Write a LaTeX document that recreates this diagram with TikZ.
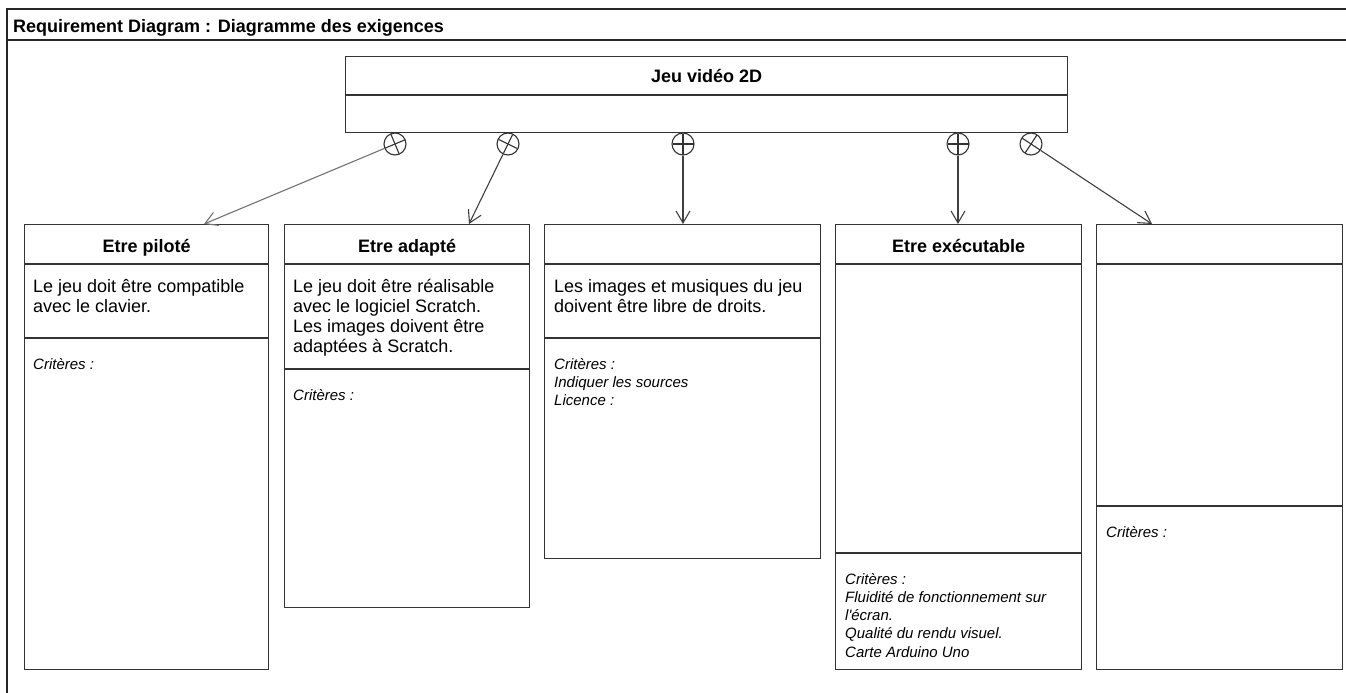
\documentclass[tikz,border=0pt]{standalone}
\usepackage{fontspec}
\setmainfont{Liberation Sans}
\usetikzlibrary{calc,arrows.meta}
\newcommand\straightquote{{\XeTeXglyph\the\XeTeXcharglyph"0027\relax}}
\begin{document}
\begin{tikzpicture}[x=1pt,y=-1pt,
  frameline/.style={draw=black!85,line width=1.4pt},
  reqbox/.style={draw=black!80,line width=1.3pt,rectangle,inner sep=0pt,anchor=north west},
  sepline/.style={draw=black!80,line width=1.3pt},
  ttl/.style={font=\bfseries\fontsize{18}{21}\selectfont,anchor=base,inner sep=0pt},
  body/.style={font=\fontsize{18}{20}\selectfont,anchor=base west,inner sep=0pt},
  crit/.style={font=\itshape\fontsize{15}{18.3}\selectfont,anchor=base west,inner sep=0pt},
  cont/.style={circle,draw=black!80,line width=1.1pt,minimum size=22pt,inner sep=0pt},
  crossl/.style={draw=black!80,line width=1.1pt},
  conn/.style={draw=black!75,line width=1.1pt,-{Straight Barb[length=12pt,width=14pt,line width=1.1pt]}},
]
\useasboundingbox (0,0) rectangle (1346,693);
\fill[white] (0,0) rectangle (1346,693);

% frame
\draw[frameline] (1347,9) -- (7,9) -- (7,694);
\draw[frameline] (7,40) -- (1347,40);
\node[font=\bfseries\fontsize{18}{21}\selectfont,anchor=base west,inner sep=0pt] (frametitle) at (13,33) {Requirement Diagram : Diagramme des exigences};

% top requirement
\node[reqbox,minimum width=722pt,minimum height=76pt] (top) at (345,56) {};
\draw[sepline] ([yshift=-39pt]top.north west) -- ([yshift=-39pt]top.north east);
\node[ttl] (toptitle) at ($(top.north)+(0,26)$) {Jeu vidéo 2D};

% box 1
\node[reqbox,minimum width=244pt,minimum height=445pt] (b1) at (24,224) {};
\draw[sepline] ([yshift=-40pt]b1.north west) -- ([yshift=-40pt]b1.north east);
\draw[sepline] ([yshift=-114pt]b1.north west) -- ([yshift=-114pt]b1.north east);
\node[ttl] (b1t) at ($(b1.north)+(0,28)$) {Etre piloté};
\node[body] (b1d) at (33,292) {\parbox[t]{235pt}{\raggedright Le jeu doit être compatible\\avec le clavier.}};
\node[crit] (b1c) at (33,369) {\parbox[t]{235pt}{\raggedright Critères :}};

% box 2
\node[reqbox,minimum width=245pt,minimum height=383pt] (b2) at (284,224) {};
\draw[sepline] ([yshift=-40pt]b2.north west) -- ([yshift=-40pt]b2.north east);
\draw[sepline] ([yshift=-145pt]b2.north west) -- ([yshift=-145pt]b2.north east);
\node[ttl] (b2t) at ($(b2.north)+(0,28)$) {Etre adapté};
\node[body] (b2d) at (293,292) {\parbox[t]{235pt}{\raggedright Le jeu doit être réalisable\\avec le logiciel Scratch.\\Les images doivent être\\adaptées à Scratch.}};
\node[crit] (b2c) at (293,400) {\parbox[t]{235pt}{\raggedright Critères :}};

% box 3
\node[reqbox,minimum width=276pt,minimum height=334pt] (b3) at (544,224) {};
\draw[sepline] ([yshift=-40pt]b3.north west) -- ([yshift=-40pt]b3.north east);
\draw[sepline] ([yshift=-114pt]b3.north west) -- ([yshift=-114pt]b3.north east);
\node[body] (b3d) at (554,292) {\parbox[t]{265pt}{\raggedright Les images et musiques du jeu\\doivent être libre de droits.}};
\node[crit] (b3c) at (554,369) {\parbox[t]{265pt}{\raggedright Critères :\\Indiquer les sources\\Licence :}};

% box 4
\node[reqbox,minimum width=246pt,minimum height=445pt] (b4) at (835,224) {};
\draw[sepline] ([yshift=-40pt]b4.north west) -- ([yshift=-40pt]b4.north east);
\draw[sepline] ([yshift=-329pt]b4.north west) -- ([yshift=-329pt]b4.north east);
\node[ttl] (b4t) at ($(b4.north)+(0,28)$) {Etre exécutable};
\node[crit] (b4c) at (845,584) {\parbox[t]{235pt}{\raggedright Critères :\\Fluidité de fonctionnement sur\\l\straightquote écran.\\Qualité du rendu visuel.\\Carte Arduino Uno}};

% box 5
\node[reqbox,minimum width=246pt,minimum height=445pt] (b5) at (1096,224) {};
\draw[sepline] ([yshift=-40pt]b5.north west) -- ([yshift=-40pt]b5.north east);
\draw[sepline] ([yshift=-282pt]b5.north west) -- ([yshift=-282pt]b5.north east);
\node[crit] (b5c) at (1106,537) {\parbox[t]{235pt}{\raggedright Critères :}};

% containment circles and connectors
\node[cont] (c1) at (395,144) {};
\node[cont] (c2) at (508,144) {};
\node[cont] (c3) at (683,144) {};
\node[cont] (c4) at (958,144) {};
\node[cont] (c5) at (1031,144) {};
\coordinate (t1) at (204,224);
\coordinate (t2) at (469,224);
\coordinate (t3) at (683,224);
\coordinate (t4) at (958,224);
\coordinate (t5) at (1152,224);
\foreach \i in {1,...,5}{
  \draw[crossl] ($(c\i.center)!10.5pt!(t\i)$) -- ($(c\i.center)!-10.5pt!(t\i)$);
  \draw[crossl] ($(c\i.center)!10.5pt!90:(t\i)$) -- ($(c\i.center)!10.5pt!-90:(t\i)$);
}
\draw[conn,draw=black!55] (c1) -- (t1);
\foreach \i in {2,...,5}{
  \draw[conn] (c\i) -- (t\i);
}
\end{tikzpicture}
\end{document}
